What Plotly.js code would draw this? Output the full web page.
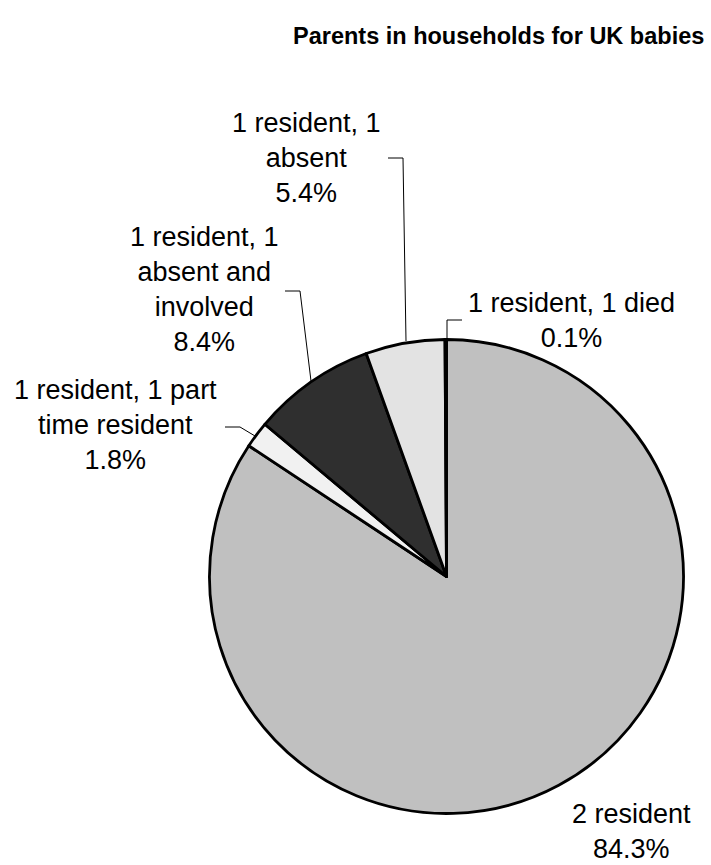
<!DOCTYPE html>
<html>
<head>
<meta charset="utf-8">
<script src="https://cdn.plot.ly/plotly-3.0.1.min.js"></script>
<style>html,body{margin:0;padding:0;background:#fff;}#chart{width:711px;height:865px;}</style>
</head>
<body>
<div id="chart"></div>
<script>
// ---- data ----
var categories = ["2 resident", "1 resident, 1 part time resident", "1 resident, 1 absent and involved", "1 resident, 1 absent", "1 resident, 1 died"];
var values = [84.3, 1.8, 8.4, 5.4, 0.1];
var labelLines = [
  ["2 resident"],
  ["1 resident, 1 part", "time resident"],
  ["1 resident, 1", "absent and", "involved"],
  ["1 resident, 1", "absent"],
  ["1 resident, 1 died"]
];
var sliceColors = ["#c0c0c0", "#f1f1f1", "#2f2f2f", "#e3e3e3", "#d8d8d8"];
var chartTitle = "Parents in households for UK babies";

// ---- layout helpers (pixel -> paper) ----
var W = 711, H = 865;
function px(x) { return x / W; }
function py(y) { return 1 - y / H; }

var cx = 446.5, cy = 576.5, R = 237;

// label placement (pixels: center x, center y) and leader polylines
var labelPos = [[631, 831], [116, 425], [204, 290], [306, 158], [571, 320]];
var leaders = [
  null,
  [[225, 427], [240, 427], [255, 436]],
  [[285, 291], [300, 291], [311, 381]],
  [[388, 158], [403, 158], [406, 341]],
  [[462, 320], [447, 320], [447, 339]]
];

var total = values.reduce(function (a, b) { return a + b; }, 0);

var annotations = [{
  text: "<b>" + chartTitle + "</b>",
  xref: "paper", yref: "paper",
  x: px(706), y: py(36), xanchor: "right", yanchor: "middle",
  showarrow: false,
  font: {family: "Liberation Sans, Arial, sans-serif", size: 23.5, color: "#000"}
}];
var shapes = [];

categories.forEach(function (c, i) {
  var pct = (values[i] / total * 100).toFixed(1) + "%";
  var txt = labelLines[i].concat([pct]).join("<br>");
  annotations.push({
    text: txt,
    xref: "paper", yref: "paper",
    x: px(labelPos[i][0]), y: py(labelPos[i][1]),
    xanchor: "center", yanchor: "middle", align: "center",
    showarrow: false,
    font: {family: "Liberation Sans, Arial, sans-serif", size: 27, color: "#000"}
  });
  if (leaders[i]) {
    var p = leaders[i].map(function (pt, k) {
      return (k === 0 ? "M" : "L") + px(pt[0]) + "," + py(pt[1]);
    }).join(" ");
    shapes.push({type: "path", xref: "paper", yref: "paper", path: p,
      line: {color: "#000", width: 1}});
  }
});

var trace = {
  type: "pie",
  labels: categories,
  values: values,
  sort: false,
  direction: "clockwise",
  rotation: 0,
  textinfo: "none",
  hoverinfo: "label+percent",
  marker: {colors: sliceColors, line: {color: "#000", width: 2.8}},
  domain: {x: [px(cx - R), px(cx + R)], y: [py(cy + R), py(cy - R)]},
  showlegend: false
};

var layout = {
  width: W, height: H,
  margin: {l: 0, r: 0, t: 0, b: 0},
  paper_bgcolor: "#fff",
  plot_bgcolor: "#fff",
  showlegend: false,
  annotations: annotations,
  shapes: shapes
};

Plotly.newPlot("chart", [trace], layout, {displayModeBar: false, staticPlot: true});
</script>
</body>
</html>
